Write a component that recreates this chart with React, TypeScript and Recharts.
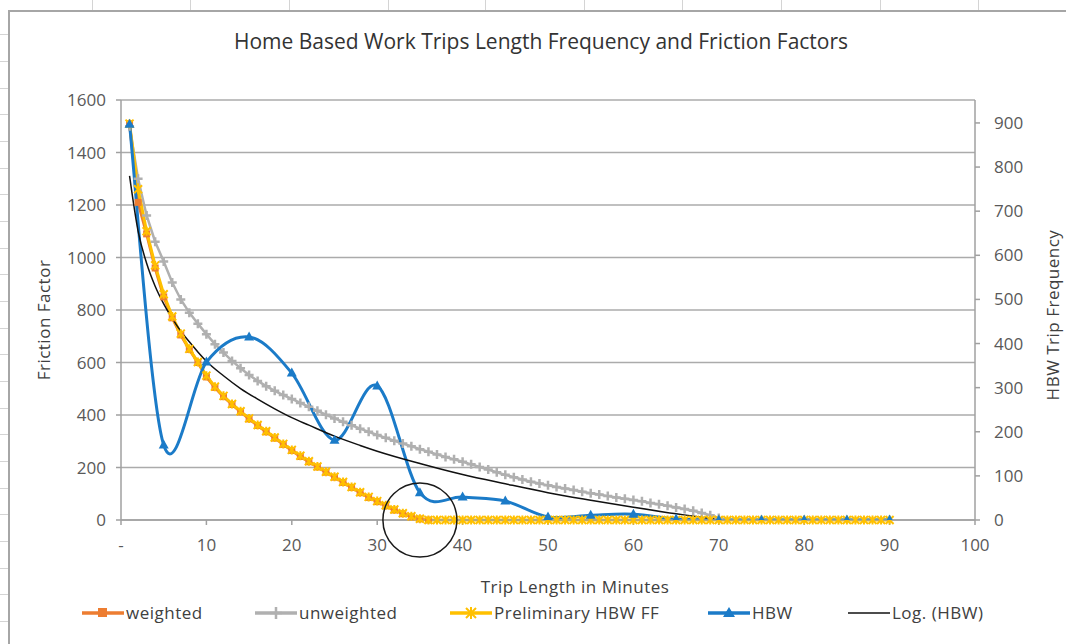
import React from 'react';
import { ComposedChart, Line, XAxis, YAxis, CartesianGrid, ReferenceDot } from 'recharts';

const minutes = [
    1, 2, 3, 4, 5, 6, 7, 8, 9, 10, 11, 12, 13, 14, 15, 16, 17, 18, 19, 20,
    21, 22, 23, 24, 25, 26, 27, 28, 29, 30, 31, 32, 33, 34, 35, 36, 37, 38, 39, 40,
    41, 42, 43, 44, 45, 46, 47, 48, 49, 50, 51, 52, 53, 54, 55, 56, 57, 58, 59, 60,
    61, 62, 63, 64, 65, 66, 67, 68, 69, 70, 71, 72, 73, 74, 75, 76, 77, 78, 79, 80,
    81, 82, 83, 84, 85, 86, 87, 88, 89, 90,
];

// friction factors, minutes 1..36
const weighted = [
    1510, 1210, 1090, 960, 850, 770, 705, 650, 600, 545, 505, 470, 440, 412, 385, 360, 336, 312, 288, 265,
    242, 222, 202, 182, 163, 143, 124, 104, 86, 70, 54, 38, 24, 12, 4, 0,
];

// minutes 1..70
const unweighted = [
    1500, 1300, 1160, 1060, 985, 905, 840, 790, 748, 708, 670, 638, 606, 578, 552, 530, 510, 492, 476, 461,
    446, 431, 416, 401, 387, 374, 361, 348, 336, 324, 313, 302, 291, 281, 270, 260, 250, 240, 231, 222,
    212, 202, 192, 182, 172, 163, 154, 146, 139, 132, 126, 120, 114, 108, 102, 97, 91, 86, 81, 76,
    71, 65, 60, 54, 48, 42, 35, 27, 18, 8,
];

// minutes 1..90
const preliminary = [
    1510, 1260, 1100, 970, 860, 775, 710, 652, 602, 550, 508, 473, 442, 414, 387, 362, 338, 314, 290, 267,
    245, 224, 204, 184, 165, 145, 126, 106, 88, 72, 56, 40, 26, 14, 5, 0, 0, 0, 0, 0,
    0, 0, 0, 0, 0, 0, 0, 0, 0, 0, 0, 0, 0, 0, 0, 0, 0, 0, 0, 0,
    0, 0, 0, 0, 0, 0, 0, 0, 0, 0, 0, 0, 0, 0, 0, 0, 0, 0, 0, 0,
    0, 0, 0, 0, 0, 0, 0, 0, 0, 0,
];

// trip frequency (right axis)
const hbwMinutes = [1, 5, 10, 15, 20, 25, 30, 35, 40, 45, 50, 55, 60, 65, 70, 75, 80, 85, 90];
const hbw = [897, 170, 358, 415, 333, 181, 304, 62, 52, 43, 7, 11, 13, 2, 0, 0, 0, 0, 0];

// log trendline of HBW
const trendMinutes = [1, 2, 3, 4, 5, 6, 7, 8, 9, 10, 12, 14, 16, 18, 20, 22, 25, 28, 30, 35, 40, 45, 50, 55, 60, 65, 70];
const trend = [780, 655, 582, 530, 490, 457, 428, 404, 381, 360, 327, 298, 274, 252, 232, 215, 190, 169, 156, 128, 103, 82, 62, 45, 29, 14, 1];

const xTicks = [0, 10, 20, 30, 40, 50, 60, 70, 80, 90, 100];
const leftTicks = [0, 200, 400, 600, 800, 1000, 1200, 1400, 1600];
const rightTicks = [0, 100, 200, 300, 400, 500, 600, 700, 800, 900];

const C = {
    weighted: '#ED7D31',
    unweighted: '#B0B0B0',
    prelim: '#FFC000',
    hbw: '#1B7BC8',
    trend: '#111111',
};

const FONT = '"Open Sans", sans-serif';

const data = minutes.map((m, i) => {
    const row: any = { m };
    if (i < weighted.length) row.weighted = weighted[i];
    if (i < unweighted.length) row.unweighted = unweighted[i];
    if (i < preliminary.length) row.prelim = preliminary[i];
    const h = hbwMinutes.indexOf(m);
    if (h >= 0) row.hbw = hbw[h];
    const t = trendMinutes.indexOf(m);
    if (t >= 0) row.trend = trend[t];
    return row;
});

// Excel style smoothed line (bezier, 1/6 tension)
const excelSmooth = (context: any) => {
    let pts: number[][] = [];
    return {
        areaStart() {},
        areaEnd() {},
        lineStart() { pts = []; },
        point(x: number, y: number) { pts.push([x, y]); },
        lineEnd() {
            if (!pts.length) return;
            context.moveTo(pts[0][0], pts[0][1]);
            for (let i = 0; i < pts.length - 1; i++) {
                const p0 = pts[i - 1] || pts[i];
                const p1 = pts[i];
                const p2 = pts[i + 1];
                const p3 = pts[i + 2] || p2;
                context.bezierCurveTo(
                    p1[0] + (p2[0] - p0[0]) / 6, p1[1] + (p2[1] - p0[1]) / 6,
                    p2[0] - (p3[0] - p1[0]) / 6, p2[1] - (p3[1] - p1[1]) / 6,
                    p2[0], p2[1]
                );
            }
        },
    };
};

const ok = (p: any) => p && p.cx != null && p.cy != null && p.value != null && !isNaN(p.cy);

const SquareDot = (p: any) => ok(p)
    ? <rect key={p.key} x={p.cx - 3.5} y={p.cy - 3.5} width={7} height={7} fill={C.weighted} />
    : <g key={p.key} />;

const PlusDot = (p: any) => ok(p)
    ? <path key={p.key} d={`M${p.cx - 4.5},${p.cy}H${p.cx + 4.5}M${p.cx},${p.cy - 4.5}V${p.cy + 4.5}`} stroke={C.unweighted} strokeWidth={2.5} />
    : <g key={p.key} />;

const StarDot = (p: any) => ok(p)
    ? <path key={p.key} d={`M${p.cx - 4},${p.cy - 4}L${p.cx + 4},${p.cy + 4}M${p.cx - 4},${p.cy + 4}L${p.cx + 4},${p.cy - 4}M${p.cx},${p.cy - 4.5}V${p.cy + 4.5}`} stroke={C.prelim} strokeWidth={2} fill="none" />
    : <g key={p.key} />;

const TriDot = (p: any) => ok(p)
    ? <path key={p.key} d={`M${p.cx},${p.cy - 5.5}L${p.cx + 5},${p.cy + 3.5}L${p.cx - 5},${p.cy + 3.5}Z`} fill={C.hbw} />
    : <g key={p.key} />;

const legendItems = [
    { label: 'weighted', color: C.weighted, mark: 'square', x: 82 },
    { label: 'unweighted', color: C.unweighted, mark: 'plus', x: 255 },
    { label: 'Preliminary HBW FF', color: C.prelim, mark: 'star', x: 450 },
    { label: 'HBW', color: C.hbw, mark: 'tri', x: 708 },
    { label: 'Log. (HBW)', color: C.trend, mark: 'none', x: 848 },
];

const LegendIcon = ({ color, mark }: { color: string; mark: string }) => (
    <svg width={42} height={14} style={{ display: 'block' }}>
        <line x1={0} y1={7} x2={42} y2={7} stroke={color} strokeWidth={mark === 'none' ? 1.5 : 3.5} />
        {mark === 'square' && <rect x={16} y={2} width={9} height={9} fill={color} />}
        {mark === 'plus' && <path d="M15,7H27M21,1V13" stroke={color} strokeWidth={2.5} />}
        {mark === 'star' && <path d="M16,2L26,12M16,12L26,2M21,1V13" stroke={color} strokeWidth={2} />}
        {mark === 'tri' && <path d="M21,1L27,11L15,11Z" fill={color} />}
    </svg>
);

const colLines = [92, 190, 289, 388, 485, 584, 682, 781, 880, 978];
const rowLines = [34, 61, 88, 114, 141, 168, 194, 221, 248, 274, 301, 328, 354, 381, 408, 434, 461, 488, 514, 541, 568, 594, 621];

const tickStyle = { fill: '#595959', fontSize: 17, fontFamily: FONT };
const labelText = { fontSize: 17, letterSpacing: 0.5, color: '#404040', whiteSpace: 'nowrap' as const };

export default function App() {
    return (
        <div style={{ position: 'absolute', left: 0, top: 0, width: 1066, height: 644, background: '#fff', overflow: 'hidden', fontFamily: FONT }}>
            {/* spreadsheet cells behind the chart */}
            {colLines.map((x) => (
                <div key={`c${x}`} style={{ position: 'absolute', left: x, top: 0, width: 1, height: 10, background: '#d4d4d4' }} />
            ))}
            {rowLines.map((y) => (
                <div key={`r${y}`} style={{ position: 'absolute', left: 0, top: y, width: 8, height: 1, background: '#d4d4d4' }} />
            ))}
            <div style={{ position: 'absolute', left: 8, top: 10, width: 1066, height: 644, borderTop: '2px solid #a6a6a6', borderLeft: '2px solid #a6a6a6', background: '#fff' }} />

            <div style={{ position: 'absolute', left: 8, top: 10 }}>
                <ComposedChart width={1058} height={634} data={data} margin={{ top: 90, right: 31, bottom: 94, left: 53 }}>
                    <CartesianGrid yAxisId="left" vertical={false} stroke="#ababab" strokeWidth={1.5} />
                    <XAxis
                        dataKey="m"
                        type="number"
                        domain={[0, 100]}
                        ticks={xTicks}
                        height={30}
                        tickFormatter={(v: number) => (v === 0 ? '-' : String(v))}
                        tick={tickStyle}
                        tickSize={5}
                        tickMargin={14}
                        stroke="#a0a0a0"
                        strokeWidth={1.5}
                        allowDataOverflow
                    />
                    <YAxis
                        yAxisId="left"
                        orientation="left"
                        width={60}
                        domain={[0, 1600]}
                        ticks={leftTicks}
                        tick={tickStyle}
                        tickSize={5}
                        tickMargin={10}
                        stroke="#a0a0a0"
                        strokeWidth={1.5}
                    />
                    <YAxis
                        yAxisId="right"
                        orientation="right"
                        width={60}
                        domain={[0, 952]}
                        ticks={rightTicks}
                        tick={{ ...tickStyle, textAnchor: 'start' }}
                        tickSize={5}
                        tickMargin={14}
                        stroke="#a0a0a0"
                        strokeWidth={1.5}
                        allowDataOverflow
                    />
                    <Line yAxisId="left" dataKey="weighted" stroke={C.weighted} strokeWidth={3} dot={SquareDot} isAnimationActive={false} />
                    <Line yAxisId="left" dataKey="unweighted" stroke={C.unweighted} strokeWidth={2.5} dot={PlusDot} isAnimationActive={false} />
                    <Line yAxisId="left" dataKey="prelim" stroke={C.prelim} strokeWidth={3} dot={StarDot} isAnimationActive={false} />
                    <Line yAxisId="right" dataKey="hbw" type={excelSmooth as any} connectNulls stroke={C.hbw} strokeWidth={3} dot={TriDot} isAnimationActive={false} />
                    <Line yAxisId="right" dataKey="trend" type="monotone" connectNulls stroke={C.trend} strokeWidth={1.5} dot={false} isAnimationActive={false} />
                    <ReferenceDot yAxisId="left" x={35} y={0} r={37} fill="none" stroke="#1a1a1a" strokeWidth={1.5} ifOverflow="visible" />
                </ComposedChart>
            </div>

            <div style={{ position: 'absolute', left: 0, top: 27, width: 1082, textAlign: 'center', fontSize: 21, color: '#333', whiteSpace: 'nowrap' }}>
                Home Based Work Trips Length Frequency and Friction Factors
            </div>
            <div style={{ position: 'absolute', left: 43, top: 320, transform: 'translate(-50%, -50%) rotate(-90deg)', ...labelText }}>
                Friction Factor
            </div>
            <div style={{ position: 'absolute', left: 1052, top: 315, transform: 'translate(-50%, -50%) rotate(-90deg)', ...labelText }}>
                HBW Trip Frequency
            </div>
            <div style={{ position: 'absolute', left: 575, top: 586, transform: 'translate(-50%, -50%)', ...labelText }}>
                Trip Length in Minutes
            </div>
            {legendItems.map((it) => (
                <div key={it.label} style={{ position: 'absolute', left: it.x, top: 601, display: 'flex', alignItems: 'center', ...labelText }}>
                    <LegendIcon color={it.color} mark={it.mark} />
                    <span style={{ marginLeft: 2 }}>{it.label}</span>
                </div>
            ))}
        </div>
    );
}
